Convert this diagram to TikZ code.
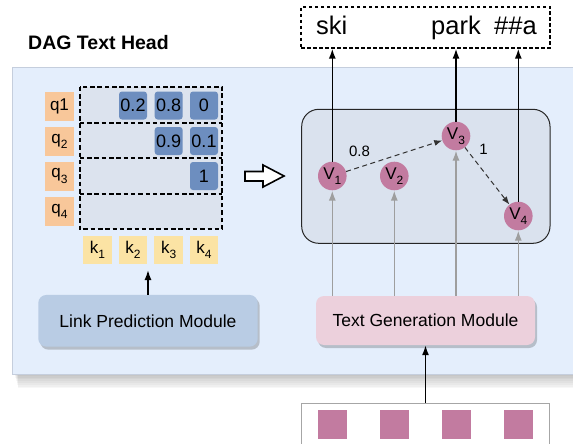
\documentclass[tikz,border=0pt]{standalone}
\usepackage{fontspec}
\setmainfont{Liberation Sans}
\usetikzlibrary{arrows.meta,shadows,calc}
\definecolor{panelbg}{HTML}{E4EEFC}
\definecolor{panelline}{HTML}{C5CEDD}
\definecolor{matbg}{HTML}{DCE3EE}
\definecolor{qcol}{HTML}{F8C79A}
\definecolor{kcol}{HTML}{FBE3A4}
\definecolor{cellcol}{HTML}{6D8EBF}
\definecolor{lpcol}{HTML}{B9CCE4}
\definecolor{tgcol}{HTML}{ECD0DC}
\definecolor{vcol}{HTML}{C27BA0}
\definecolor{graphbg}{HTML}{DAE2EE}
\definecolor{garrow}{HTML}{9E9E9E}
\newcommand\fs[1]{\fontsize{#1}{#1}\selectfont}
\newcommand\mysub[1]{\raisebox{-0.3em}{\fs{12}#1}}
\begin{document}
\begin{tikzpicture}[x=1pt,y=-1pt,
  qbox/.style={fill=qcol, minimum width=29pt, minimum height=29pt, inner sep=0, font=\fs{17}},
  kbox/.style={fill=kcol, minimum width=28.5pt, minimum height=28.5pt, inner sep=0, font=\fs{17}},
  cell/.style={fill=cellcol, rounded corners=3pt, minimum width=28pt, minimum height=28pt, inner sep=0, font=\fs{18}},
  vnode/.style={circle, fill=vcol, minimum size=28.6pt, inner sep=0, font=\fs{17}},
  module/.style={rounded corners=8pt, inner sep=0, font=\fs{17.5}, drop shadow={shadow xshift=2pt, shadow yshift=-3pt, opacity=0.2, fill=black}},
  rowbox/.style={fill=matbg, minimum width=142pt, inner sep=0},
  dashrow/.style={draw=black, line width=2pt, dash pattern=on 4.5pt off 2.8pt},
  up/.style={-{Latex[length=10pt,width=7pt]}, line width=1.5pt},
  gup/.style={draw=garrow, -{Latex[length=10pt,width=7pt]}, line width=1.6pt},
  link/.style={draw=black!80, -{Latex[length=8pt,width=6pt]}, line width=1pt, dash pattern=on 5pt off 3.5pt},
  token/.style={anchor=base west, font=\fs{25.5}, inner sep=0},
  sq/.style={fill=vcol, minimum size=28.5pt, inner sep=0},
  lbl/.style={font=\fs{15}, inner sep=0}
]
\useasboundingbox (0,0) rectangle (573,444);
% panel with shadow
\foreach \i in {1,...,8} \fill[black,opacity=0.03] (14+\i*0.5,70) rectangle (573,374+\i*1.8);
\fill[panelbg] (12,67) rectangle (573,374);
\draw[panelline, line width=0.8pt] (573,374) -- (12,374) -- (12,67) -- (573,67);
% title
\node[anchor=base west, inner sep=0, font=\bfseries\fs{19.5}] (title) at (28,49) {DAG Text Head};
% output tokens
\node[draw, line width=1.3pt, dash pattern=on 3.5pt off 2.5pt, minimum width=249pt, minimum height=41pt, inner sep=0] (out) at (425.5,27.5) {};
\node[token] (ski) at (316,34.5) {ski};
\node[token] (park) at (431,34.5) {park};
\node[token] (hha) at (494,34.5) {\#\#a};
% matrix rows
\node[rowbox, minimum height=36pt] (r1) at (151,105) {};
\node[rowbox, minimum height=35pt] (r2) at (151,140.5) {};
\node[rowbox, minimum height=36pt] (r3) at (151,176) {};
\node[rowbox, minimum height=35pt] (r4) at (151,211.5) {};
\draw[dashrow] (r1.north west) rectangle (r4.south east);
\draw[dashrow] (r1.south west) -- (r1.south east);
\draw[dashrow] (r3.north west) -- (r3.north east);
\draw[dashrow] (r4.north west) -- (r4.north east);
% cells
\node[cell] (c12) at (133,105.5) {0.2};
\node[cell] (c13) at (168.7,105.5) {0.8};
\node[cell] (c14) at (204,105.5) {0};
\node[cell] (c23) at (168.7,141) {0.9};
\node[cell] (c24) at (204,141) {0.1};
\node[cell] (c34) at (204,176) {1};
% q labels
\node[qbox] (q1) at (59.5,106) {q1};
\node[qbox] (q2) at (59.5,141) {q\mysub{2}};
\node[qbox] (q3) at (59.5,176) {q\mysub{3}};
\node[qbox] (q4) at (59.5,211.5) {q\mysub{4}};
% k labels
\node[kbox] (k1) at (97.5,250) {k\mysub{1}};
\node[kbox] (k2) at (133,250) {k\mysub{2}};
\node[kbox] (k3) at (168.7,250) {k\mysub{3}};
\node[kbox] (k4) at (204,250) {k\mysub{4}};
% hollow arrow
\draw[line width=1.6pt, fill=white, line join=miter] (245,171.5) -- (263,171.5) -- (263,165) -- (284,176) -- (263,187) -- (263,181) -- (245,181) -- cycle;
% graph container
\node[draw=black!85, fill=graphbg, rounded corners=17pt, line width=1pt, minimum width=248.3pt, minimum height=134pt, inner sep=0] (gbox) at (425.85,176.3) {};
% modules
\node[module, fill=lpcol, minimum width=219.4pt, minimum height=51.7pt] (lp) at (148,320.8) {Link Prediction Module};
\node[module, fill=tgcol, minimum width=219pt, minimum height=49pt] (tg) at (425.5,320.5) {Text Generation Module};
% input box
\node[draw=black!35, line width=1.2pt, minimum width=247.6pt, minimum height=60pt, inner sep=0, anchor=north] (inbox) at (425.5,403) {};
\node[sq] (s1) at (332.5,424.5) {};
\node[sq] (s2) at (394.5,424.5) {};
\node[sq] (s3) at (456.5,424.5) {};
\node[sq] (s4) at (518.3,424.5) {};
% vertices
\node[vnode] (v1) at (332.3,176) {V\mysub{1}};
\node[vnode] (v2) at (394.3,176) {V\mysub{2}};
\node[vnode] (v3) at (456,136) {V\mysub{3}};
\node[vnode] (v4) at (518.3,216) {V\mysub{4}};
% arrows
\coordinate (ktarget) at (148,270);
\draw[up] (lp.north) -- (ktarget);
\draw[up] (inbox.north) -- (tg.south);
\foreach \v in {v1,v3,v4} \draw[up] (\v.north) -- (\v.north |- out.south);
\foreach \v in {v1,v2,v3,v4} \draw[gup] (\v.south |- tg.north) -- (\v.south);
\draw[link] (v1) -- (v3);
\draw[link] (v3) -- (v4);
\node[lbl] (l08) at (359.5,151) {0.8};
\node[lbl] (l1) at (483.5,149) {1};
\end{tikzpicture}
\end{document}
